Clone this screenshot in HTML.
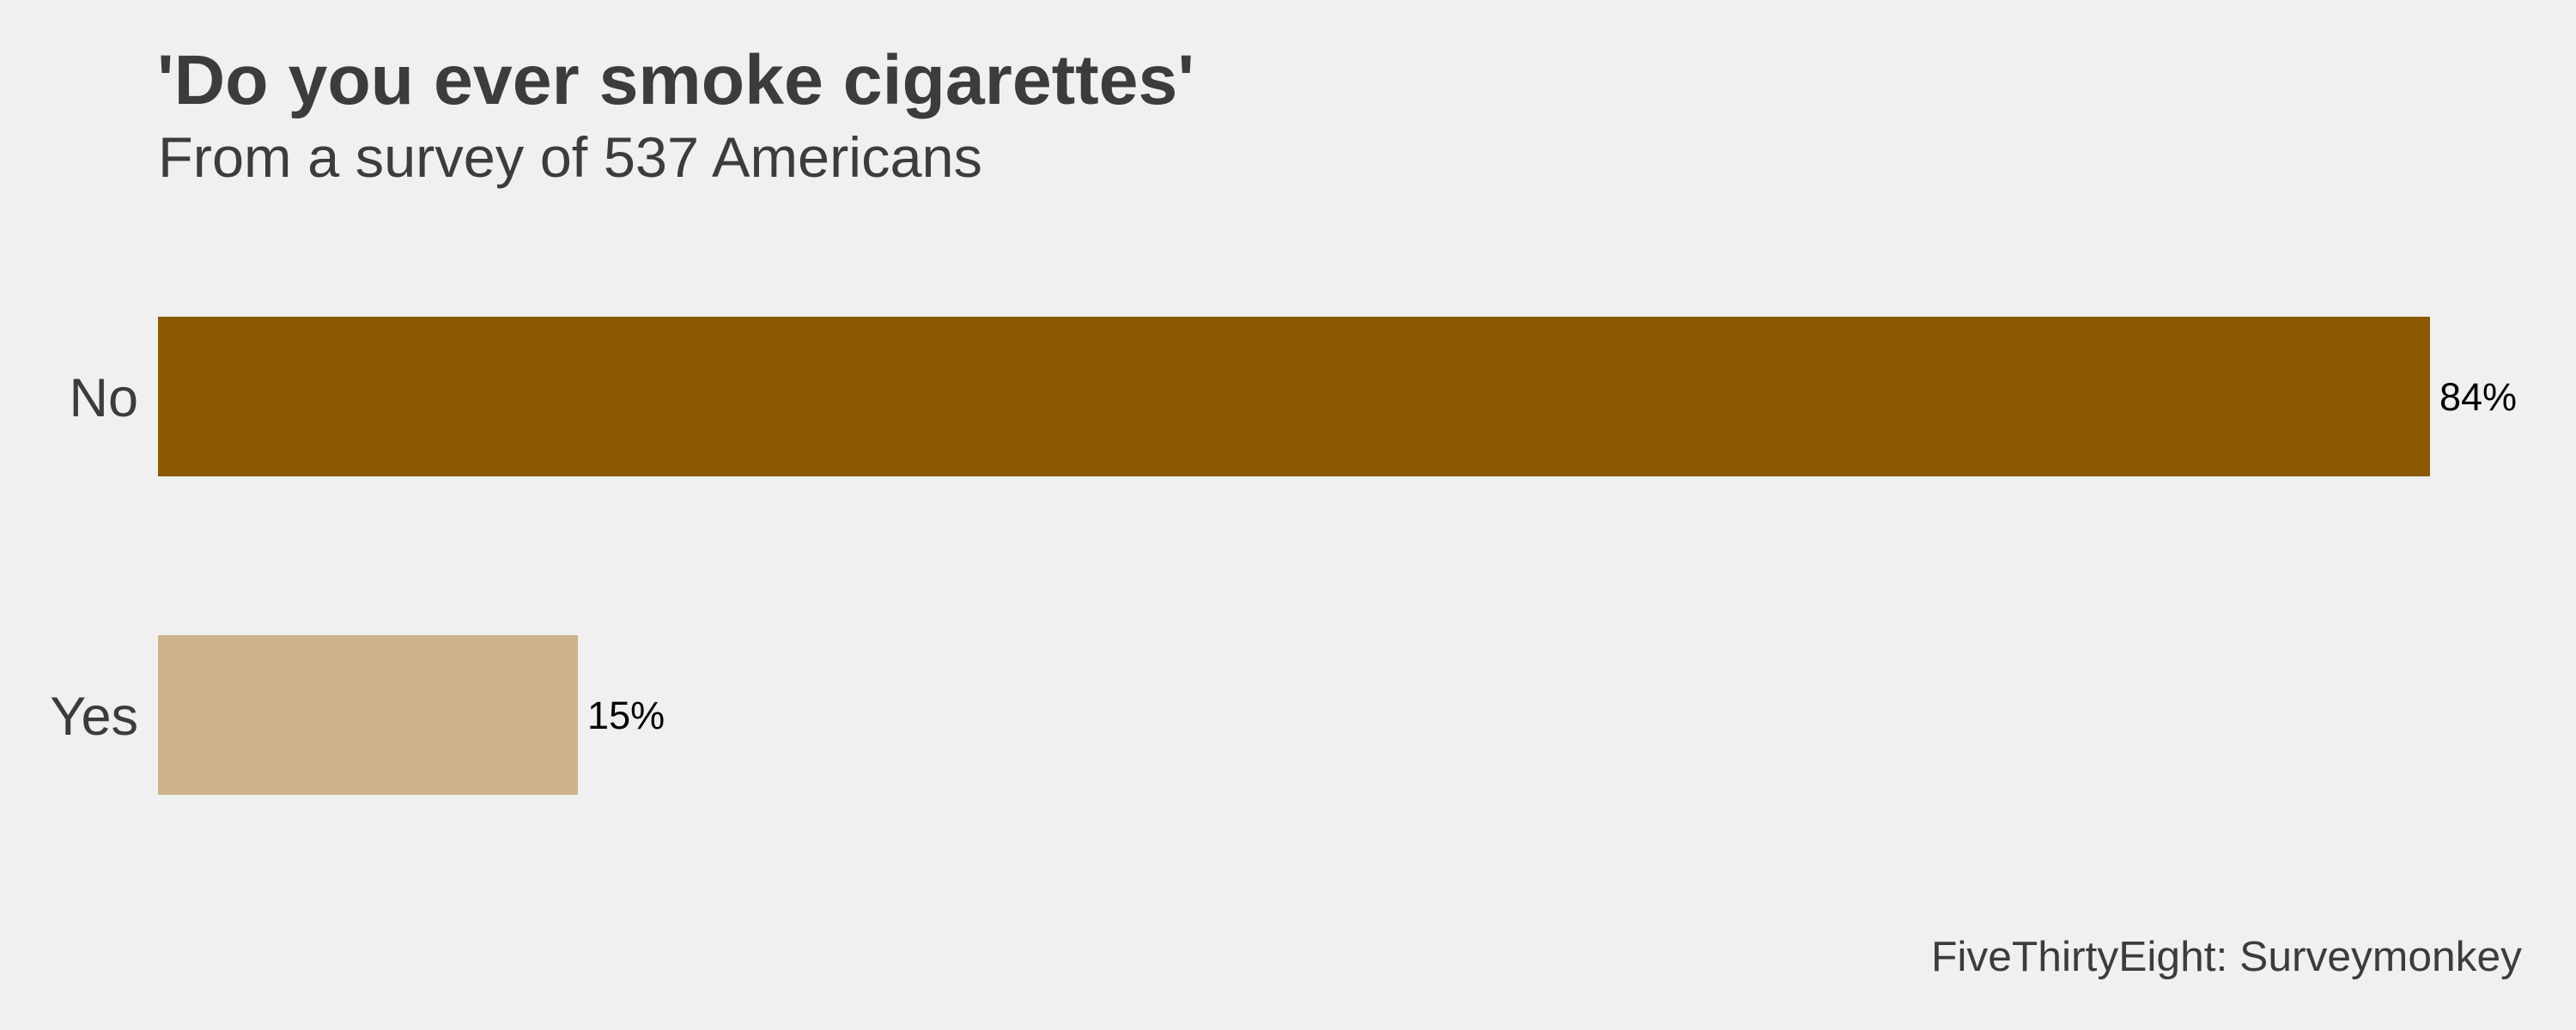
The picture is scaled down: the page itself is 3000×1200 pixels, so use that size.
<!DOCTYPE html>
<html><head><meta charset="utf-8"><style>
html,body{margin:0;padding:0;background:#f0f0f0;}
svg{display:block;font-family:"Liberation Sans",Arial,sans-serif;}
</style></head><body>
<svg id="chart" width="3000" height="1200" viewBox="0 0 3000 1200" xmlns="http://www.w3.org/2000/svg">
<rect width="3000" height="1200" fill="#f0f0f0"/>
<text x="183" y="121" font-size="82" font-weight="bold" fill="#3c3c3c" textLength="1208" lengthAdjust="spacingAndGlyphs">'Do you ever smoke cigarettes'</text>
<text x="184" y="206" font-size="66" fill="#3c3c3c" textLength="960" lengthAdjust="spacingAndGlyphs">From a survey of 537 Americans</text>
<text x="2249" y="1131" font-size="49" fill="#3c3c3c" textLength="688" lengthAdjust="spacingAndGlyphs">FiveThirtyEight: Surveymonkey</text>
<g id="bars"></g>
</svg>
<script>
const categories = ["No", "Yes"];
const values = [84.4, 15.6];
const valueLabels = ["84%", "15%"];
const colors = ["#8b5a00", "#cdb38b"];

const NS = "http://www.w3.org/2000/svg";
const x0 = 184, pxPerUnit = 31.35;
function xScale(v){ return x0 + v * pxPerUnit; }
const bandTop = 369, bandStep = 371, barH = 186;
function yScale(i){ return bandTop + i * bandStep; }
const g = document.getElementById('bars');
categories.forEach((c, i) => {
  const y = yScale(i);
  const r = document.createElementNS(NS, 'rect');
  
  
  r.setAttribute('x', x0);
  r.setAttribute('y', y);
  r.setAttribute('width', xScale(values[i]) - x0);
  r.setAttribute('height', barH);
  r.setAttribute('fill', colors[i]);
  g.appendChild(r);
  const cl = document.createElementNS(NS, 'text');
  
  
  cl.setAttribute('x', 161);
  cl.setAttribute('y', y + barH / 2 + 23);
  cl.setAttribute('font-size', '63');
  cl.setAttribute('fill', '#3c3c3c');
  cl.setAttribute('text-anchor', 'end');
  cl.textContent = c;
  g.appendChild(cl);
  const vl = document.createElementNS(NS, 'text');
  
  
  vl.setAttribute('x', xScale(values[i]) + 11);
  vl.setAttribute('y', y + barH / 2 + 16);
  vl.setAttribute('font-size', '45');
  vl.setAttribute('fill', '#000');
  vl.textContent = valueLabels[i];
  g.appendChild(vl);
});
</script>
</body></html>
